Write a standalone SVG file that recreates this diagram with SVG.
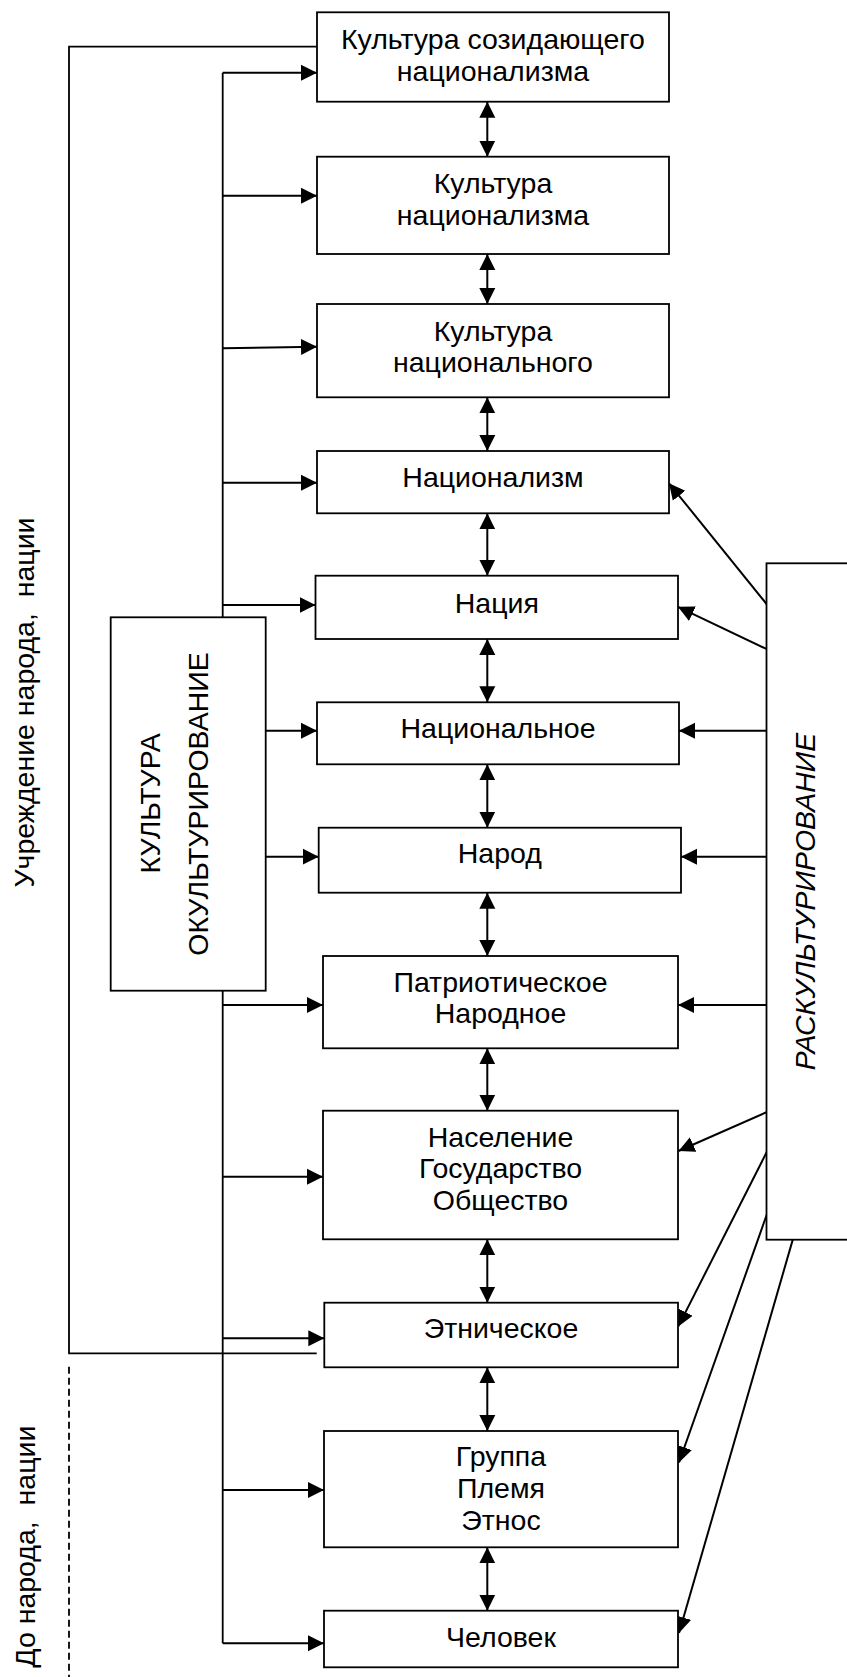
<svg xmlns="http://www.w3.org/2000/svg" width="847" height="1677" viewBox="0 0 847 1677">
<style>
.box{fill:#fff;stroke:#000;stroke-width:1.8}
.t{font-family:"Liberation Sans",Arial,sans-serif;font-size:28.5px;fill:#000;text-anchor:middle}
.v{font-family:"Liberation Sans",Arial,sans-serif;font-size:28.5px;fill:#000;text-anchor:middle}
.ln{fill:none;stroke:#000;stroke-width:1.8}
.ar{fill:none;stroke:#000;stroke-width:2;marker-end:url(#ah)}
.da{fill:none;stroke:#000;stroke-width:2;marker-end:url(#ah);marker-start:url(#ah)}
</style>
<defs>
<marker id="ah" markerUnits="userSpaceOnUse" markerWidth="17" markerHeight="17" viewBox="0 0 17 17" refX="16" refY="8.5" orient="auto-start-reverse">
<path d="M0,0.5 L16,8.5 L0,16.5 z" fill="#000"/>
</marker>
</defs>
<rect width="847" height="1677" fill="#fff"/>

<g id="labels">
<text class="v" xml:space="preserve" transform="translate(34,702.5) rotate(-90)">Учреждение народа,  нации</text>
<text class="v" xml:space="preserve" transform="translate(35,1546.7) rotate(-90)">До народа,  нации</text>
</g>

<g id="connectors">
<path class="ln" d="M317,46.7 H69 V1353.3 H316.7"/>
<path class="ln" d="M69,1366.7 V1677" stroke-dasharray="7,4"/>
<path class="ln" d="M222.7,72.7 V617.3 M222.7,990.7 V1643.3"/>
<path class="ar" d="M222.7,72.7 H317"/>
<path class="ar" d="M222.7,195.7 H317"/>
<path class="ar" d="M222.7,348.3 L317,346.7"/>
<path class="ar" d="M222.7,482.7 H317"/>
<path class="ar" d="M222.7,605 H315.5"/>
<path class="ar" d="M265.7,730.7 H317"/>
<path class="ar" d="M265.7,856.7 H318.7"/>
<path class="ar" d="M222.7,1005 H323"/>
<path class="ar" d="M222.7,1176.7 H323"/>
<path class="ar" d="M222.7,1338.3 H324.3"/>
<path class="ar" d="M222.7,1490 H324"/>
<path class="ar" d="M222.7,1643.3 H324"/>
<path class="da" d="M487.3,101.7 V156.7"/>
<path class="da" d="M487.3,254 V304"/>
<path class="da" d="M487.3,397.3 V451"/>
<path class="da" d="M487.3,513.3 V575.7"/>
<path class="da" d="M487.3,639 V702.3"/>
<path class="da" d="M487.3,764.3 V827.7"/>
<path class="da" d="M487.3,892.7 V956"/>
<path class="da" d="M487.3,1048.3 V1110.7"/>
<path class="da" d="M487.3,1239.3 V1302.7"/>
<path class="da" d="M487.3,1367.3 V1431"/>
<path class="da" d="M487.3,1547.3 V1610.7"/>
<path class="ar" d="M767,604.5 L669,483.3"/>
<path class="ar" d="M767,649.2 L678,606.8"/>
<path class="ar" d="M767,730.7 H679"/>
<path class="ar" d="M767,856.7 H681"/>
<path class="ar" d="M767,1005 H678"/>
<path class="ar" d="M767,1112 L678.5,1151"/>
<path class="ar" d="M767,1151.5 L678.3,1326.4"/>
<path class="ar" d="M767,1214 L679,1462.5"/>
<path class="ar" d="M792.7,1239.9 L679,1633"/>
</g>

<g id="n1"><rect class="box" x="317" y="12.3" width="352" height="89.4"/><text class="t" x="493" y="49.3">Культура созидающего</text><text class="t" x="493" y="80.7">национализма</text></g>
<g id="n2"><rect class="box" x="317" y="156.7" width="352" height="97.3"/><text class="t" x="493" y="193.3">Культура</text><text class="t" x="493" y="225">национализма</text></g>
<g id="n3"><rect class="box" x="317" y="304" width="352" height="93.3"/><text class="t" x="493" y="340.7">Культура</text><text class="t" x="493" y="371.7">национального</text></g>
<g id="n4"><rect class="box" x="317" y="451" width="352" height="62.3"/><text class="t" x="493" y="487.3">Национализм</text></g>
<g id="n5"><rect class="box" x="315.5" y="575.7" width="362.5" height="63.3"/><text class="t" x="496.8" y="612.7">Нация</text></g>
<g id="n6"><rect class="box" x="317" y="702.3" width="362" height="62"/><text class="t" x="498" y="738.3">Национальное</text></g>
<g id="n7"><rect class="box" x="318.7" y="827.7" width="362.3" height="65"/><text class="t" x="499.8" y="863.3">Народ</text></g>
<g id="n8"><rect class="box" x="323" y="956" width="355" height="92.3"/><text class="t" x="500.5" y="991.7">Патриотическое</text><text class="t" x="500.5" y="1023.3">Народное</text></g>
<g id="n9"><rect class="box" x="323" y="1110.7" width="355" height="128.6"/><text class="t" x="500.5" y="1146.7">Население</text><text class="t" x="500.5" y="1178.3">Государство</text><text class="t" x="500.5" y="1210">Общество</text></g>
<g id="n10"><rect class="box" x="324.3" y="1302.7" width="353.7" height="64.6"/><text class="t" x="501" y="1338.3">Этническое</text></g>
<g id="n11"><rect class="box" x="324" y="1431" width="354" height="116.3"/><text class="t" x="501" y="1466">Группа</text><text class="t" x="501" y="1498.3">Племя</text><text class="t" x="501" y="1530">Этнос</text></g>
<g id="n12"><rect class="box" x="324" y="1610.7" width="354" height="56.6"/><text class="t" x="501" y="1646.7">Человек</text></g>

<g id="okult"><rect class="box" x="110.7" y="617.3" width="155" height="373.4"/><text class="v" transform="translate(160,803.3) rotate(-90)">КУЛЬТУРА</text><text class="v" transform="translate(208.3,804) rotate(-90)">ОКУЛЬТУРИРОВАНИЕ</text></g>
<g id="raskult"><rect class="box" x="766.5" y="563.3" width="95" height="676.4"/><text class="v" font-style="italic" font-size="30.5" transform="translate(815,901.5) rotate(-90)">РАСКУЛЬТУРИРОВАНИЕ</text></g>
</svg>
